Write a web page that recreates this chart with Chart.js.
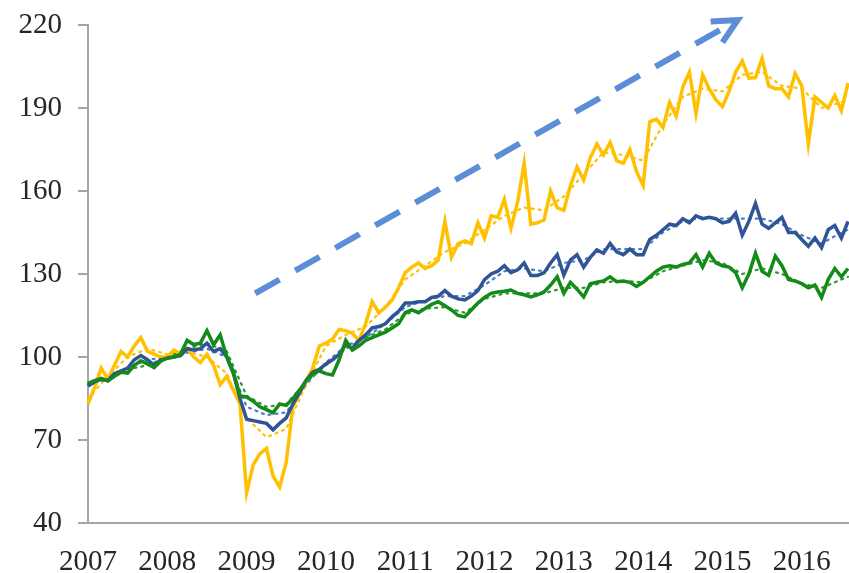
<!DOCTYPE html>
<html>
<head>
<meta charset="utf-8">
<script src="https://cdn.jsdelivr.net/npm/chart.js@4.4.1/dist/chart.umd.min.js"></script>
<style>
  html, body { margin: 0; padding: 0; background: #fff; }
  canvas { display: block; }
</style>
</head>
<body>
<canvas id="chart" width="849" height="573"></canvas>
<script>
// year tick labels (monthly data, Jan 2007 .. Aug 2016)
const years = ['2007', '2008', '2009', '2010', '2011', '2012', '2013', '2014', '2015', '2016'];
const monthCount = 116;
const yTicks = { min: 40, max: 220, step: 30 };

// monthly index values
const yellowSeries = [
  83, 89, 96, 92, 97, 102, 100, 104, 107, 102, 101, 100,
  100, 102.5, 101, 103, 100, 98, 101, 97, 90, 93, 88, 83,
  51, 61, 65, 67, 57, 53, 62, 82, 87, 91, 96, 104,
  105, 106.5, 110, 109.5, 108.5, 106, 112, 120, 116, 118, 120.5, 125,
  130.5, 132.5, 134, 132, 133, 135, 149, 136, 141, 142, 141, 148.5,
  143, 151, 150.5, 157, 146.5, 156, 170, 148, 148.5, 149.5, 160, 154,
  153, 162, 168.7, 164, 172, 177, 173, 177.5, 171, 170, 175, 167,
  162, 185, 186, 183, 192, 187, 197.6, 203, 188, 202, 197, 193,
  190.5, 196, 203, 207, 200.8, 201, 208, 198, 197, 197, 194, 202.5,
  198, 177, 194, 192, 190, 194.5, 189, 199
];
const blueSeries = [
  89.5, 91, 92, 91.5, 94, 95, 96, 99, 100.5, 99, 97, 99,
  99.5, 100, 100.5, 103, 102.5, 103, 105, 102, 103, 100, 94, 85,
  77.5, 77, 76.5, 76, 73.7, 76, 78, 83, 87, 91.5, 94.5, 95.5,
  97.5, 99, 101, 104.5, 103, 106, 108, 110.5, 111, 112, 114.5, 116.5,
  119.5, 119.5, 120, 120, 121.5, 122, 124, 122, 121, 120.6, 122, 124,
  128, 130, 131, 133, 130.5, 131.5, 134, 129.5, 129.5, 130.4, 134, 137,
  129.6, 135, 137, 132.5, 136, 138.7, 137.5, 141, 138, 137, 139, 137,
  137, 142.5, 144, 146, 148, 147.5, 150, 148.5, 151, 150, 150.5, 150,
  148.5, 149, 152, 144, 149, 155.5, 148, 146.5, 148.5, 150.5, 145, 145,
  142.5, 140, 143, 139.5, 146, 147.5, 143, 149
];
const greenSeries = [
  90.5, 91.5, 92.3, 91.3, 93, 94.5, 94.2, 97, 98.6, 97.5, 96.2, 98.5,
  99.7, 100, 101, 106, 104.5, 105, 109.5, 104.4, 108, 100, 94.6, 86,
  85.5, 84, 82, 81, 79.8, 83, 82.5, 85, 88, 91.5, 94, 95,
  94, 93.5, 99, 106, 102.5, 104, 106, 107, 108, 109, 110.5, 112,
  116, 117, 116, 117.5, 119, 120, 118.5, 117, 115, 114.5, 117, 119.5,
  121.5, 123, 123.5, 123.8, 124.2, 123, 122.5, 121.7, 122.5, 123.5, 126, 129,
  123, 127, 124.5, 121.7, 126.5, 127, 127.5, 129, 127.2, 127.5, 127, 125.5,
  127, 129, 131, 132.5, 133, 132.5, 133.5, 134, 137, 132.5, 137.5, 134,
  133, 132.5, 130.5, 125, 130, 137.5, 131, 129.5, 136.5, 133, 128, 127.5,
  126.5, 125, 126, 121.5, 128, 132, 129, 132
];

// dotted trend lines, one reading per quarter
const trendStep = 3;
const yellowTrend = [85, 93, 100, 103, 101, 102, 100, 94, 78, 71, 74, 90, 104, 108, 111, 118, 128, 133, 138, 141,
  146, 151, 154, 153, 158, 166, 174, 173, 171, 184, 194, 197, 196, 202, 203, 198, 197, 190, 192, 193];
const blueTrend = [90, 92, 96, 99, 100, 101.5, 103, 100, 82, 79, 80, 90, 98, 104, 107, 112, 118, 120.5, 122, 122,
  126, 131, 132, 131, 134, 135, 139, 139, 139, 145, 149, 150.5, 150, 150, 150, 148, 144, 141, 145, 146];
const greenTrend = [90.5, 92.5, 95.5, 97, 100, 103, 105, 102, 86, 82, 83, 91, 97, 103, 107, 110, 115.5, 117.5, 118, 116,
  121, 123, 123, 123, 125, 125, 127, 127.5, 127, 131, 133, 135, 134, 130, 132, 130, 126.5, 125, 128, 129];

// dashed arrow, in (month index, value) units
const arrowFrom = [25.3, 123];
const arrowTo = [98.3, 221.8];

const months = [];
for (let i = 0; i < monthCount; i++) {
  months.push(years[Math.floor(i / 12)] + '-' + String(i % 12 + 1).padStart(2, '0'));
}

function spreadTrend(vals) {
  const out = new Array(monthCount).fill(null);
  vals.forEach((v, k) => { out[Math.min(k * trendStep, monthCount - 1)] = v; });
  return out;
}

const YELLOW = '#FFC000';
const BLUE = '#2F5597';
const GREEN = '#148A19';

function solid(data, color, order) {
  return {
    data, borderColor: color, borderWidth: 3.5, pointRadius: 0,
    tension: 0, borderJoinStyle: 'miter', fill: false, order
  };
}
function dotted(data, color, order) {
  return {
    data: spreadTrend(data), borderColor: color, borderWidth: 2.2, borderDash: [2, 5],
    borderCapStyle: 'round', pointRadius: 0, spanGaps: true, fill: false, order
  };
}

const arrowPlugin = {
  id: 'trendArrow',
  afterDraw(chart) {
    const { ctx, scales: { x, y } } = chart;
    const x0 = x.getPixelForValue(arrowFrom[0]), y0 = y.getPixelForValue(arrowFrom[1]);
    const x1 = x.getPixelForValue(arrowTo[0]), y1 = y.getPixelForValue(arrowTo[1]);
    const ang = Math.atan2(y1 - y0, x1 - x0);
    ctx.save();
    ctx.strokeStyle = '#5B8ED6';
    ctx.lineWidth = 6;
    ctx.setLineDash([28, 18]);
    ctx.beginPath();
    ctx.moveTo(x0, y0);
    ctx.lineTo(x1 - 8 * Math.cos(ang), y1 - 8 * Math.sin(ang));
    ctx.stroke();
    ctx.setLineDash([]);
    ctx.lineJoin = 'miter';
    const len = 27, spread = 0.46;
    ctx.beginPath();
    ctx.moveTo(x1 - len * Math.cos(ang - spread), y1 - len * Math.sin(ang - spread));
    ctx.lineTo(x1, y1);
    ctx.lineTo(x1 - len * Math.cos(ang + spread), y1 - len * Math.sin(ang + spread));
    ctx.stroke();
    ctx.restore();
  }
};

const axisGrey = '#A6A6A6';
const font = { family: '"Liberation Serif", "DejaVu Serif", serif', size: 29 };

new Chart(document.getElementById('chart'), {
  type: 'line',
  data: {
    labels: months,
    datasets: [
      dotted(yellowTrend, '#FFC000', 6),
      dotted(blueTrend, '#4A7EC8', 5),
      dotted(greenTrend, '#2E9A30', 4),
      solid(yellowSeries, YELLOW, 3),
      solid(blueSeries, BLUE, 2),
      solid(greenSeries, GREEN, 1)
    ]
  },
  options: {
    responsive: false,
    animation: false,
    layout: { padding: { top: 25, right: 1, left: 0, bottom: 0 } },
    plugins: { legend: { display: false }, tooltip: { enabled: false } },
    scales: {
      x: {
        offset: false,
        grid: { display: false, drawTicks: false, tickLength: 0 },
        border: { display: true, color: axisGrey, width: 2 },
        ticks: {
          autoSkip: false, maxRotation: 0, padding: 22, color: '#262626', font,
          callback: (v, i) => (i % 12 === 0 ? years[i / 12] : '')
        },
        afterFit: (s) => { s.height = 50; s.paddingLeft = 0; s.paddingRight = 0; }
      },
      y: {
        min: yTicks.min, max: yTicks.max,
        grid: { drawOnChartArea: false, tickLength: 10, color: axisGrey, lineWidth: 2 },
        border: { display: true, color: axisGrey, width: 2 },
        ticks: { stepSize: yTicks.step, padding: 16, color: '#262626', font },
        afterFit: (s) => { s.width = 88; s.paddingTop = 0; s.paddingBottom = 0; }
      }
    }
  },
  plugins: [arrowPlugin]
});
</script>
</body>
</html>
